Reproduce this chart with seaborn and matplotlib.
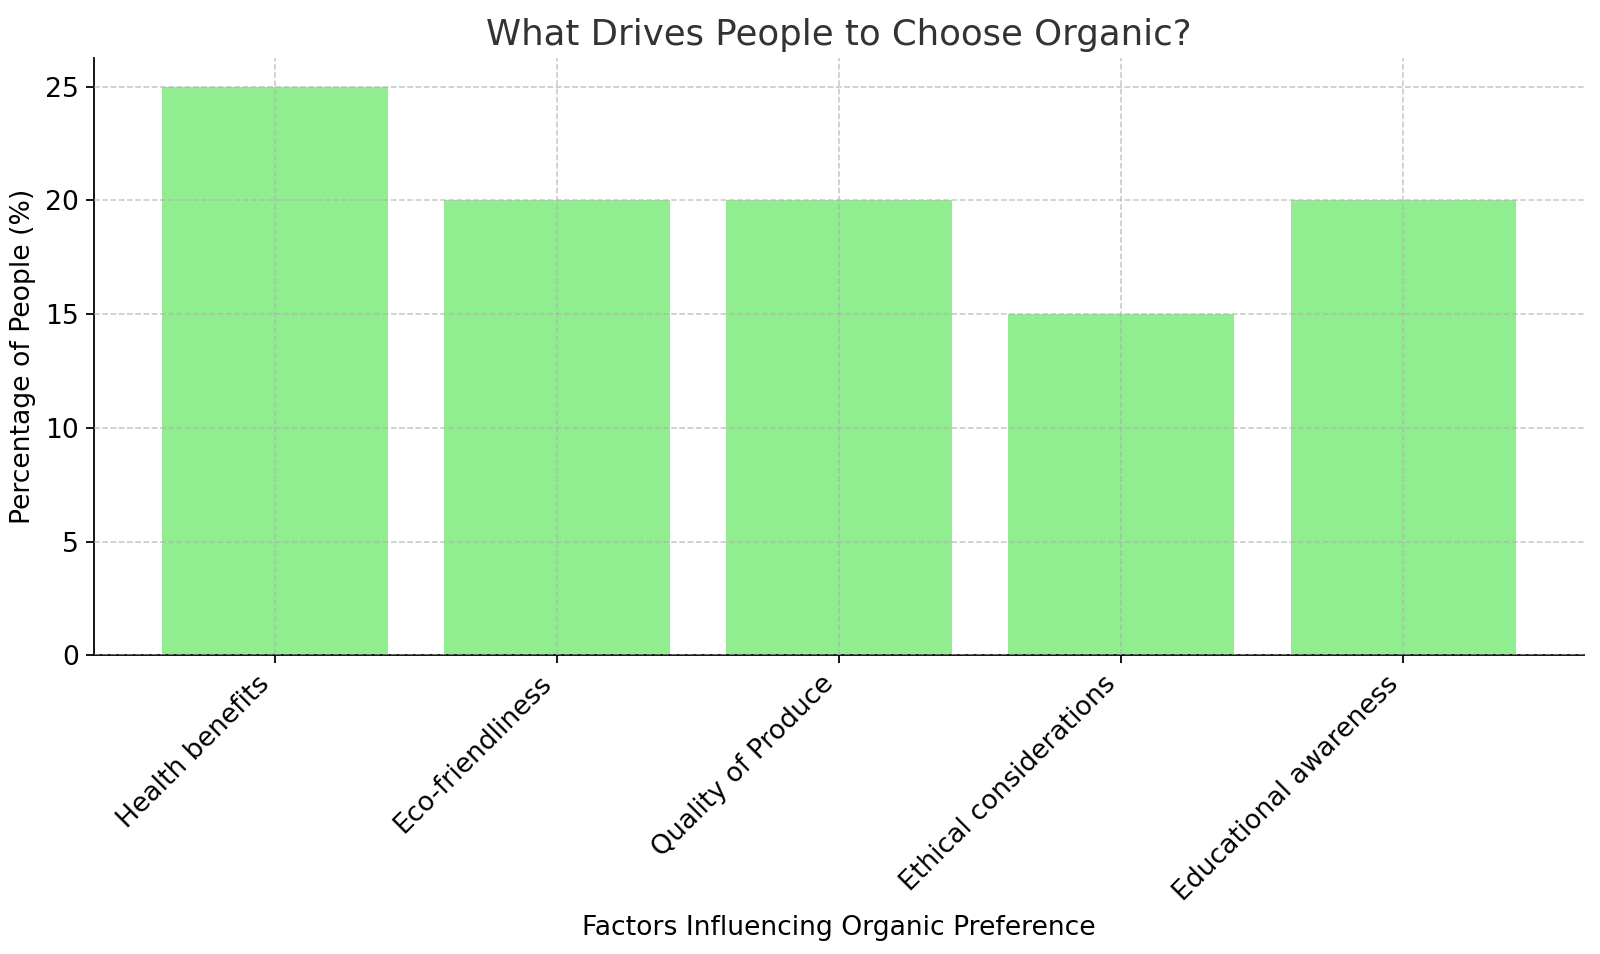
import pandas as pd
import matplotlib
matplotlib.use("Agg")
import matplotlib.pyplot as plt
import seaborn as sns

factors = ["Health benefits", "Eco-friendliness", "Quality of Produce",
           "Ethical considerations", "Educational awareness"]
percentages = [25, 20, 20, 15, 20]

df = pd.DataFrame({"factor": factors, "pct": percentages})

fig, ax = plt.subplots(figsize=(10, 5.9625), dpi=160)
sns.barplot(data=df, x="factor", y="pct", color="lightgreen", saturation=1,
            width=0.8, ax=ax)
ax.set_xlim(-0.64, len(factors) - 0.36)
ax.set_title("What Drives People to Choose Organic?", fontsize=16, color="#333333")
ax.set_xlabel("Factors Influencing Organic Preference", fontsize=12)
ax.set_ylabel("Percentage of People (%)", fontsize=12)
ax.set_xticks(range(len(factors)))
ax.set_xticklabels(factors, rotation=45, ha="right", fontsize=12)
ax.tick_params(axis="y", labelsize=12)
ax.grid(True, linestyle="--", linewidth=0.7, alpha=0.7)
ax.set_axisbelow(False)
sns.despine(ax=ax)
fig.subplots_adjust(left=0.059, right=0.990, top=0.939, bottom=0.313)
plt.savefig("out.png")
